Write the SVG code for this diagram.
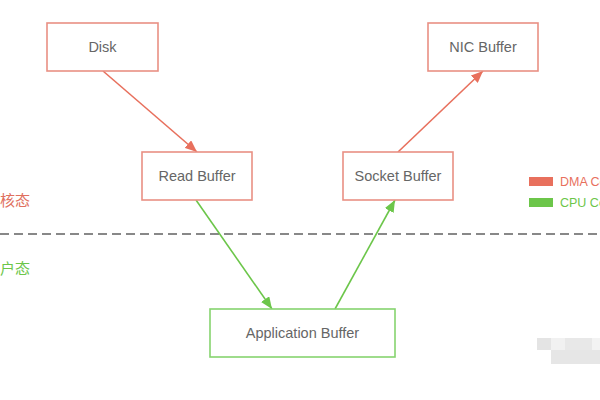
<svg xmlns="http://www.w3.org/2000/svg" width="600" height="400" viewBox="0 0 600 400">
<defs>
<style>
.nr{fill:#fff;stroke:#E99084;stroke-width:1.6}
.ng{fill:#fff;stroke:#86D46F;stroke-width:1.6}
.lbl{font-family:"Liberation Sans",Arial,sans-serif;font-size:14.5px;fill:#666;text-anchor:middle;dominant-baseline:central}
.er{stroke:#E8705D;stroke-width:1.6;fill:none}
.eg{stroke:#6CC64A;stroke-width:1.6;fill:none}
.side{font-family:"Liberation Sans","Noto Sans CJK SC",sans-serif;font-size:15px;dominant-baseline:central}
.leg{font-family:"Liberation Sans",Arial,sans-serif;font-size:12.5px;dominant-baseline:central}
</style>
<marker id="ar" markerWidth="12" markerHeight="10" refX="12" refY="5" orient="auto" markerUnits="userSpaceOnUse"><path d="M0,0 L12,5 L0,10 Z" fill="#E8705D"/></marker>
<marker id="ag" markerWidth="12" markerHeight="10" refX="12" refY="5" orient="auto" markerUnits="userSpaceOnUse"><path d="M0,0 L12,5 L0,10 Z" fill="#6CC64A"/></marker>
</defs>
<rect width="600" height="400" fill="#fff"/>
<line x1="0" y1="234" x2="600" y2="234" stroke="#888" stroke-width="2" stroke-dasharray="9,5"/>
<text class="side" x="0" y="200" fill="#E0705E">核态</text>
<text class="side" x="0" y="268" fill="#6CC64A">户态</text>
<g id="connectors">
<line class="er" x1="103" y1="71" x2="197" y2="152" marker-end="url(#ar)"/>
<line class="er" x1="398" y1="152" x2="483" y2="71" marker-end="url(#ar)"/>
<line class="eg" x1="196" y1="200" x2="272" y2="309" marker-end="url(#ag)"/>
<line class="eg" x1="335" y1="309" x2="395" y2="200" marker-end="url(#ag)"/>
</g>
<g id="disk"><rect class="nr" x="47" y="23" width="111" height="48"/><text class="lbl" x="102.5" y="47">Disk</text></g>
<g id="nic"><rect class="nr" x="428" y="23" width="110" height="48"/><text class="lbl" x="483" y="47">NIC Buffer</text></g>
<g id="read"><rect class="nr" x="142" y="152" width="110" height="48"/><text class="lbl" x="197" y="176">Read Buffer</text></g>
<g id="socket"><rect class="nr" x="343" y="152" width="110" height="48"/><text class="lbl" x="398" y="176">Socket Buffer</text></g>
<g id="app"><rect class="ng" x="210" y="309" width="185" height="48"/><text class="lbl" x="302.5" y="333">Application Buffer</text></g>
<g id="legend">
<rect x="529" y="177" width="24" height="9" fill="#E8705D"/>
<text class="leg" x="560" y="181.5" fill="#E8705D">DMA Copy</text>
<rect x="529" y="198" width="24" height="9" fill="#6CC64A"/>
<text class="leg" x="560" y="202.5" fill="#6CC64A">CPU Copy</text>
</g>
<g id="mosaic" opacity="0.9">
<rect x="537" y="338" width="14" height="12" fill="#e2e2e2"/>
<rect x="551" y="338" width="14" height="12" fill="#f0f0f0"/>
<rect x="565" y="338" width="27" height="12" fill="#e6e6e6"/>
<rect x="592" y="338" width="8" height="12" fill="#f2f2f2"/>
<rect x="551" y="350" width="49" height="14" fill="#e4e4e4"/>
</g>
</svg>
